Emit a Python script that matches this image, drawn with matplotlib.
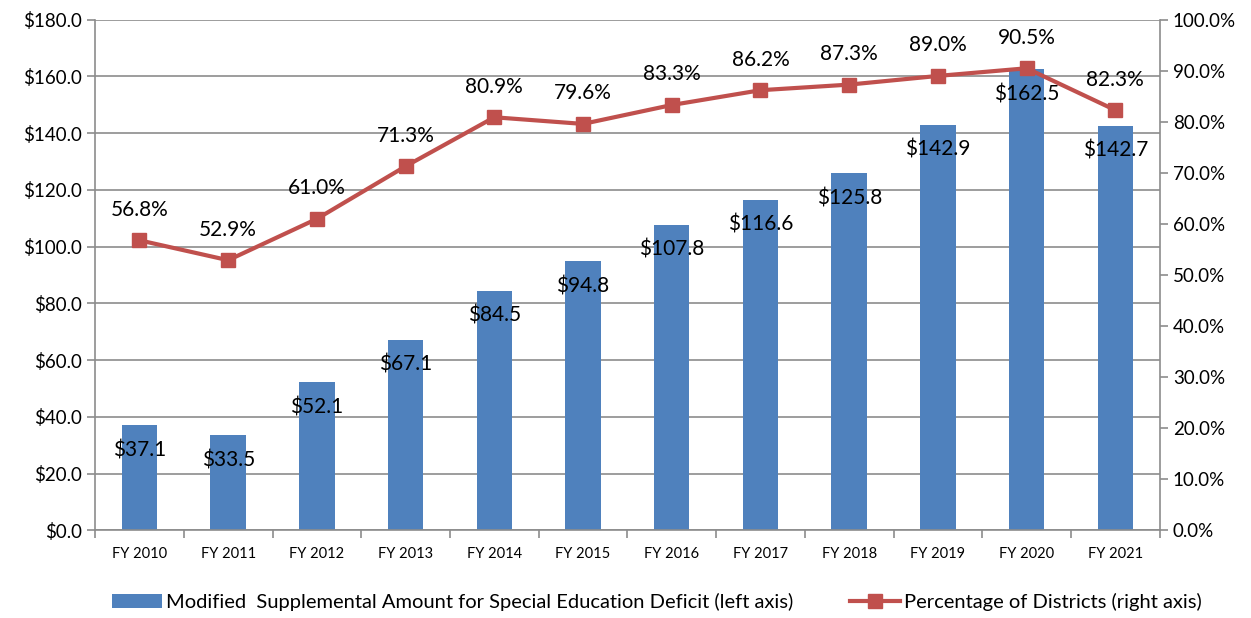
import matplotlib.pyplot as plt
import numpy as np
from matplotlib.ticker import FuncFormatter, FixedLocator

plt.rcParams['font.family'] = ['Lato', 'DejaVu Sans']

years = ["FY 2010", "FY 2011", "FY 2012", "FY 2013", "FY 2014", "FY 2015",
         "FY 2016", "FY 2017", "FY 2018", "FY 2019", "FY 2020", "FY 2021"]
amounts = [37.1, 33.5, 52.1, 67.1, 84.5, 94.8, 107.8, 116.6, 125.8, 142.9, 162.5, 142.7]
pct = [56.8, 52.9, 61.0, 71.3, 80.9, 79.6, 83.3, 86.2, 87.3, 89.0, 90.5, 82.3]

bar_color = "#4F81BD"
line_color = "#C0504D"
grid_color = "#8C8C8C"

fig = plt.figure(figsize=(12.51, 6.18), dpi=100)
ax = fig.add_axes([0.076, 0.142, 0.851, 0.826])
ax2 = ax.twinx()

x = np.arange(len(years))
bars = ax.bar(x, amounts, width=0.4, color=bar_color, zorder=2,
              label="Modified  Supplemental Amount for Special Education Deficit (left axis)")
ax.set_ylim(0, 180)
ax.set_xlim(-0.5, len(years) - 0.5)
ax.set_yticks(np.arange(0, 181, 20))
ax.yaxis.set_major_formatter(FuncFormatter(lambda v, p: "${:.1f}".format(v)))
ax.grid(axis="y", color=grid_color, lw=1.2, zorder=0)
ax.set_axisbelow(True)
ax.set_xticks(x)
ax.set_xticklabels(years, fontsize=10.5)
ax.xaxis.set_minor_locator(FixedLocator(np.arange(-0.5, len(years), 1)))
ax.tick_params(axis="x", which="major", length=0, pad=12)
ax.tick_params(axis="x", which="minor", length=6, color=grid_color, width=1.2)
ax.tick_params(axis="y", labelsize=13.5, length=6, color=grid_color, width=1.2)

for b, v in zip(bars, amounts):
    ax.annotate("${:.1f}".format(v), (b.get_x() + b.get_width() / 2, v),
                xytext=(0, -18), textcoords="offset points",
                ha="center", va="center", fontsize=15, zorder=5)

line, = ax2.plot(x, pct, color=line_color, lw=3, marker="s", markersize=10,
                 label="Percentage of Districts (right axis)", zorder=3)
ax2.set_ylim(0, 100)
ax2.set_yticks(np.arange(0, 101, 10))
ax2.yaxis.set_major_formatter(FuncFormatter(lambda v, p: "{:.1f}%".format(v)))
ax2.tick_params(axis="y", labelsize=13.5, length=6, color=grid_color, width=1.2)

for xi, v in zip(x, pct):
    ax2.annotate("{:.1f}%".format(v), (xi, v), xytext=(0, 22),
                 textcoords="offset points", ha="center", va="center", fontsize=15)

for a in (ax, ax2):
    for s in a.spines.values():
        s.set_visible(False)
ax.spines["left"].set_visible(True)
ax.spines["left"].set_color(grid_color)
ax.spines["left"].set_linewidth(1.2)
ax.spines["bottom"].set_visible(True)
ax.spines["bottom"].set_color(grid_color)
ax.spines["bottom"].set_linewidth(1.2)
ax2.spines["right"].set_visible(True)
ax2.spines["right"].set_color(grid_color)
ax2.spines["right"].set_linewidth(1.2)

fig.legend([bars, line], [bars.get_label(), line.get_label()],
           loc="lower center", bbox_to_anchor=(0.525, -0.018), ncol=2, frameon=False,
           fontsize=14.5, handlelength=2.5, columnspacing=2.8, handletextpad=0.2)

fig.savefig("out.png", dpi=100)
